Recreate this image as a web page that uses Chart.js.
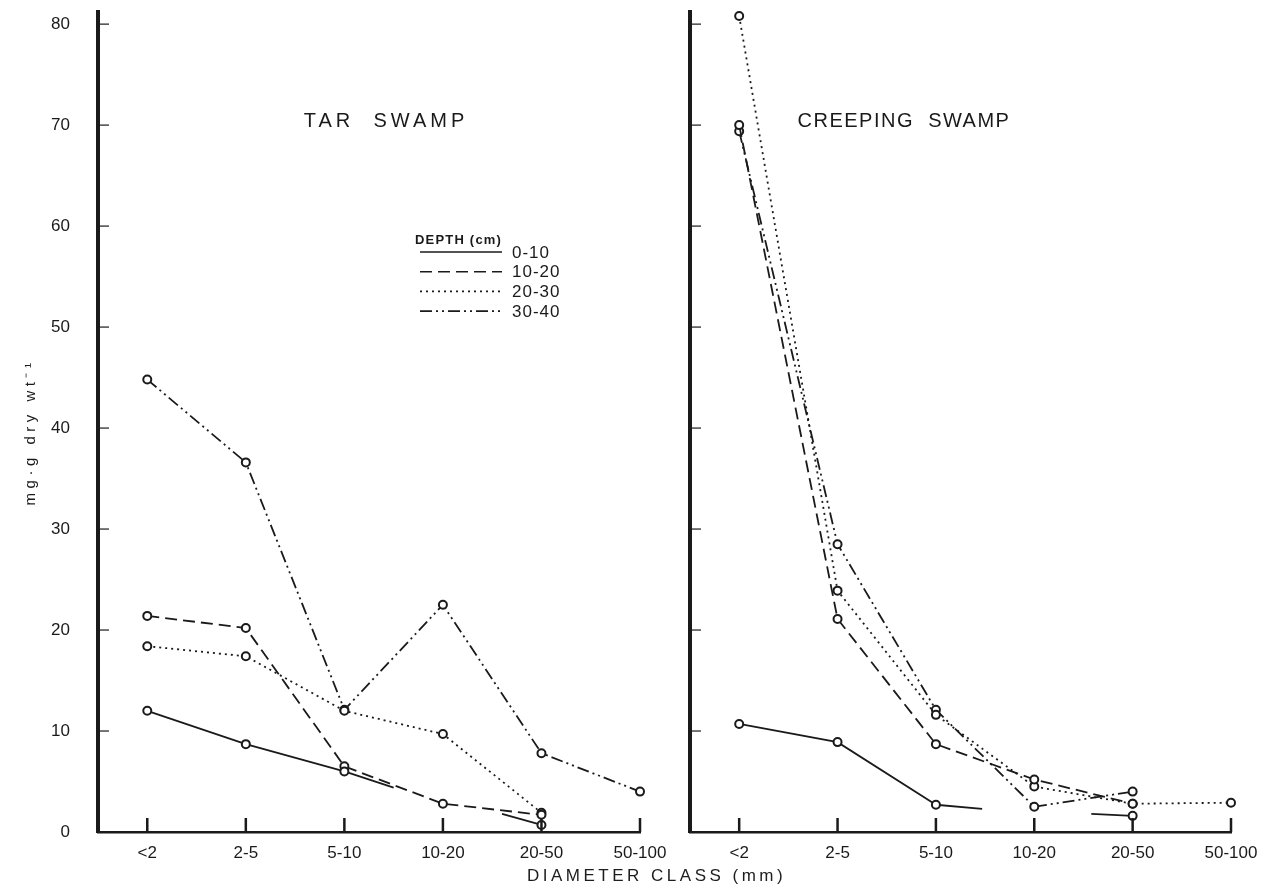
<!DOCTYPE html>
<html>
<head>
<meta charset="utf-8">
<script src="https://cdn.jsdelivr.net/npm/chart.js@4.4.1/dist/chart.umd.min.js"></script>
<style>
  body { margin: 0; background: #fff; width: 1286px; height: 890px; position: relative; overflow: hidden; }
  canvas { position: absolute; top: 0; }
  #tar { left: 0; }
  #creep { left: 660px; }
  #xtitle {
    position: absolute; left: 527px; top: 866px; line-height: 17px;
    font: 17px "Liberation Sans", Arial, sans-serif; letter-spacing: 3.5px; color: #1d1d1d;
  }
</style>
</head>
<body>
<canvas id="tar" width="700" height="890"></canvas>
<canvas id="creep" width="626" height="890"></canvas>
<div id="xtitle">DIAMETER CLASS (mm)</div>
<script>
const classes = ['<2', '2-5', '5-10', '10-20', '20-50', '50-100'];
const yTicks = [0, 10, 20, 30, 40, 50, 60, 70, 80];
const depthLabels = ['0-10', '10-20', '20-30', '30-40'];

// Tar Swamp, mg·g dry wt-1 per diameter class (null = no sample)
const tar0_10  = [12.0, 8.7, 6.0, null, 0.7, null];
const tar10_20 = [21.4, 20.2, 6.5, 2.8, 1.7, null];
const tar20_30 = [18.4, 17.4, 12.0, 9.7, 1.9, null];
const tar30_40 = [44.8, 36.6, 12.1, 22.5, 7.8, 4.0];
// unmarked ends of the 0-10 cm line either side of the missing 10-20 class: [class position, value]
const tarGap0_10 = [[2.5, 4.4], [3.6, 1.8]];

// Creeping Swamp
const creep0_10  = [10.7, 8.9, 2.7, null, 1.6, null];
const creep10_20 = [70.0, 21.1, 8.7, 5.2, 2.8, null];
const creep20_30 = [80.8, 23.9, 11.6, 4.5, 2.8, 2.9];
const creep30_40 = [69.4, 28.5, 12.1, 2.5, 4.0, null];
const creepGap0_10 = [[2.47, 2.3], [3.58, 1.8]];

const ink = '#1a1a1a';
const fontFamily = '"Liberation Sans", Arial, sans-serif';
// solid, dashed, dotted, dash-dot-dot
const dashes = [[], [12, 6], [2, 4], [12, 4, 2, 4, 2, 4]];

function lineSet(label, values, dash) {
  return {
    label: label,
    data: values.map((v, i) => ({ x: i, y: v })),
    borderColor: ink,
    borderWidth: 1.8,
    borderDash: dash,
    pointRadius: 4,
    pointBorderWidth: 2,
    pointBackgroundColor: '#fff',
    pointBorderColor: ink,
    spanGaps: false,
    tension: 0,
    clip: false
  };
}

// short pieces of line running from the marked points towards the gap
function gapSet(values, gap) {
  const before = gap[0], after = gap[1];
  const i0 = Math.floor(before[0]), i1 = Math.ceil(after[0]);
  return {
    label: '',
    data: [
      { x: i0, y: values[i0] },
      { x: before[0], y: before[1] },
      { x: (before[0] + after[0]) / 2, y: null },
      { x: after[0], y: after[1] },
      { x: i1, y: values[i1] }
    ],
    borderColor: ink,
    borderWidth: 1.8,
    pointRadius: 0,
    spanGaps: false,
    order: 10,
    clip: false
  };
}

// inward tick marks, panel heading, y title and depth key
const panelDecor = {
  id: 'panelDecor',
  afterDraw(chart, args, opts) {
    const { ctx, chartArea } = chart;
    const x = chart.scales.x, y = chart.scales.y;
    ctx.save();
    ctx.strokeStyle = ink;
    ctx.fillStyle = ink;

    ctx.lineWidth = 2.5;
    x.ticks.forEach(t => {
      const px = x.getPixelForValue(t.value);
      ctx.beginPath();
      ctx.moveTo(px, chartArea.bottom);
      ctx.lineTo(px, chartArea.bottom - 14);
      ctx.stroke();
    });
    ctx.lineWidth = 1.2;
    y.ticks.forEach(t => {
      if (t.value === 0) return;
      const py = y.getPixelForValue(t.value);
      ctx.beginPath();
      ctx.moveTo(chartArea.left, py);
      ctx.lineTo(chartArea.left + 11, py);
      ctx.stroke();
    });

    ctx.font = '20px ' + fontFamily;
    ctx.letterSpacing = opts.titleSpacing;
    ctx.textAlign = 'center';
    ctx.textBaseline = 'middle';
    ctx.fillText(opts.title, opts.titleX, 121);

    if (opts.yTitle) {
      ctx.save();
      ctx.translate(31, 432);
      ctx.rotate(-Math.PI / 2);
      ctx.font = '15px ' + fontFamily;
      ctx.letterSpacing = '4.5px';
      ctx.fillText(opts.yTitle, 0, 0);
      ctx.restore();
    }

    if (opts.legend) {
      ctx.textAlign = 'left';
      ctx.font = 'bold 13px ' + fontFamily;
      ctx.letterSpacing = '1.2px';
      ctx.fillText('DEPTH (cm)', 415, 240);
      ctx.font = '17px ' + fontFamily;
      ctx.letterSpacing = '1px';
      chart.data.datasets.filter(d => d.label).forEach((d, i) => {
        const ly = 252 + i * 19.7;
        ctx.lineWidth = 1.6;
        ctx.setLineDash(d.borderDash);
        ctx.beginPath();
        ctx.moveTo(420, ly);
        ctx.lineTo(502, ly);
        ctx.stroke();
        ctx.setLineDash([]);
        ctx.fillText(d.label, 512, ly + 1);
      });
    }
    ctx.restore();
  }
};

function panel(canvasId, series, gap, opts) {
  const datasets = series.map((values, i) => lineSet(depthLabels[i], values, dashes[i]));
  datasets.push(gapSet(series[0], gap));
  return new Chart(document.getElementById(canvasId), {
    type: 'line',
    data: { datasets: datasets },
    options: {
      responsive: false,
      animation: false,
      layout: { padding: { top: 12, right: opts.padRight, bottom: 0, left: 0 } },
      plugins: {
        legend: { display: false },
        tooltip: { enabled: false },
        panelDecor: opts.decor
      },
      scales: {
        x: {
          type: 'linear',
          min: -0.5,
          max: 5,
          afterBuildTicks: s => { s.ticks = classes.map((c, i) => ({ value: i })); },
          afterFit: s => { s.height = 58; s.paddingLeft = 0; s.paddingRight = 0; },
          ticks: {
            callback: (v, i) => classes[i],
            color: ink,
            font: { family: fontFamily, size: 17 },
            padding: 11,
            maxRotation: 0,
            autoSkip: false
          },
          grid: { drawOnChartArea: false, drawTicks: false },
          border: { color: ink, width: 2.5 }
        },
        y: {
          min: 0,
          max: 81.2,
          afterBuildTicks: s => { s.ticks = yTicks.map(v => ({ value: v })); },
          // labels sit well clear of the axis; keep that gap out of the layout
          afterFit: s => { s.width = opts.axisWidth; s.paddingTop = 0; s.paddingBottom = 0; },
          ticks: {
            display: opts.showLabels,
            color: ink,
            font: { family: fontFamily, size: 17 },
            padding: 28
          },
          grid: { drawOnChartArea: false, drawTicks: false },
          border: { color: ink, width: 4 }
        }
      }
    },
    plugins: [panelDecor]
  });
}

panel('tar', [tar0_10, tar10_20, tar20_30, tar30_40], tarGap0_10, {
  padRight: 60,
  axisWidth: 98,
  showLabels: true,
  decor: { title: 'TAR  SWAMP', titleX: 386, titleSpacing: '4px', yTitle: 'mg·g dry wt⁻¹', legend: true }
});

panel('creep', [creep0_10, creep10_20, creep20_30, creep30_40], creepGap0_10, {
  padRight: 55,
  axisWidth: 30,
  showLabels: false,
  decor: { title: 'CREEPING  SWAMP', titleX: 244, titleSpacing: '1.5px', yTitle: '', legend: false }
});
</script>
</body>
</html>
